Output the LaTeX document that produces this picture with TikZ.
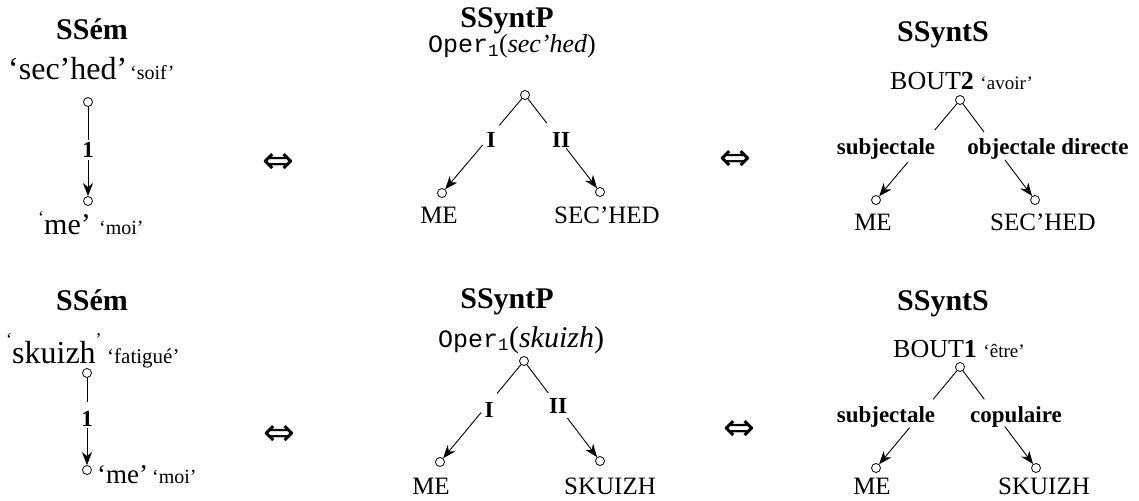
\documentclass[tikz,border=0pt]{standalone}
\usepackage{fontspec}
\usepackage{graphicx}
\setmainfont{Liberation Serif}
\setmonofont{Liberation Mono}
\newfontfamily\symfnt{DejaVu Sans}
\usetikzlibrary{arrows.meta,calc}
\newcommand{\myfs}[1]{\fontsize{#1}{#1}\selectfont}
\begin{document}
\begin{tikzpicture}[x=1pt,y=-1pt,
  dot/.style={circle,draw,line width=0.8pt,inner sep=0pt,minimum size=9pt},
  head/.style={font=\bfseries\myfs{30},anchor=base,inner sep=0pt},
  lab/.style={font=\bfseries\myfs{23},inner sep=0pt},
  word/.style={font=\myfs{25},anchor=base,inner sep=0pt},
  gloss/.style={font=\myfs{20},anchor=base west,inner sep=0pt},
  big/.style={font=\myfs{32},anchor=base west,inner sep=0pt},
  eqv/.style={font=\symfnt\myfs{38},inner sep=0pt},
  ln/.style={line width=0.9pt},
  arr/.style={line width=0.9pt,-{Stealth[length=13pt,width=10pt,inset=4pt]}},
]
\useasboundingbox (0,0) rectangle (1139,500);

% ---------- top row ----------
% SSem
\node[head] (h1) at (92,40) {SSém};
\node[big] (w1) at (8,80) {‘sec’hed’};
\node[gloss] (g1) at (130,80) {‘soif’};
\node[dot] (s1) at (88,102) {};
\node[dot] (s2) at (88,201) {};
\node[lab] (l1) at (88,150) {1};
\draw[ln] (s1) -- ($(s1)!0.38!(s2)$);
\draw[arr] ($(s1)!0.59!(s2)$) -- (s2);
\node[font=\myfs{30},anchor=base west,inner sep=0pt] (w2) at (38,234) {\raisebox{11pt}{\myfs{18}‘}me’};
\node[gloss] (g2) at (99,234) {‘moi’};
\node[eqv] (e1) at (278,163) {⇔};

% SSyntP
\node[head] (h2) at (507,28) {SSyntP};
\node[anchor=base,inner sep=0pt] (o1) at (512,53) {{\ttfamily\myfs{25}Oper\textsubscript{1}}{\myfs{26}(\textit{sec’hed})}};
\node[dot] (r2) at (525,95) {};
\node[dot] (a2) at (442,193) {};
\node[dot] (b2) at (600,192) {};
\node[lab] (la2) at (491,140) {I};
\node[lab] (lb2) at (561,140) {II};
\draw[ln] (r2) -- ($(r2)!0.31!(a2)$);
\draw[arr] ($(r2)!0.51!(a2)$) -- (a2);
\draw[ln] (r2) -- ($(r2)!0.29!(b2)$);
\draw[arr] ($(r2)!0.55!(b2)$) -- (b2);
\node[word] (m2) at (439,223) {ME};
\node[word] (n2) at (607,223) {SEC’HED};
\node[eqv] (e2) at (735,160) {⇔};

% SSyntS
\node[head] (h3) at (943,42) {SSyntS};
\node[anchor=base west,inner sep=0pt] (t3) at (890,90) {\myfs{26}BOUT\textbf{2} \myfs{19}‘avoir’};
\node[dot] (r3) at (960,100) {};
\node[dot] (a3) at (876,200) {};
\node[dot] (b3) at (1035,200) {};
\node[lab,anchor=base] (la3) at (886,154) {subjectale};
\node[lab,anchor=base] (lb3) at (1048,154) {objectale directe};
\draw[ln] (r3) -- ($(r3)!0.30!(a3)$);
\draw[arr] ($(r3)!0.62!(a3)$) -- (a3);
\draw[ln] (r3) -- ($(r3)!0.32!(b3)$);
\draw[arr] ($(r3)!0.60!(b3)$) -- (b3);
\node[word] (m3) at (873,230) {ME};
\node[word] (n3) at (1043,230) {SEC’HED};

% ---------- bottom row ----------
% SSem
\node[head] (h4) at (92,310) {SSém};
\node[big] (w4) at (6,363) {\raisebox{18pt}{\myfs{18}‘}skuizh\raisebox{18pt}{\myfs{18}’}};
\node[font=\myfs{21},anchor=base west,inner sep=0pt] (g4) at (107,363) {‘fatigué’};
\node[dot] (s3) at (87,373) {};
\node[dot] (s4) at (87,470) {};
\node[lab] (l4) at (87,419) {1};
\draw[ln] (s3) -- ($(s3)!0.30!(s4)$);
\draw[arr] ($(s3)!0.57!(s4)$) -- (s4);
\node[font=\myfs{27},anchor=base west,inner sep=0pt] (w5) at (97,483) {‘me’};
\node[gloss] (g5) at (152,483) {‘moi’};
\node[eqv] (e4) at (279,435) {⇔};

% SSyntP
\node[head] (h5) at (507,308) {SSyntP};
\node[anchor=base,inner sep=0pt] (o5) at (521,347) {{\ttfamily\myfs{25}Oper\textsubscript{1}}{\myfs{30}(\textit{skuizh})}};
\node[dot] (r5) at (524,361) {};
\node[dot] (a5) at (440,462) {};
\node[dot] (b5) at (600,461) {};
\node[lab] (la5) at (489,410) {I};
\node[lab] (lb5) at (558,406) {II};
\draw[ln] (r5) -- ($(r5)!0.32!(a5)$);
\draw[arr] ($(r5)!0.51!(a5)$) -- (a5);
\draw[ln] (r5) -- ($(r5)!0.32!(b5)$);
\draw[arr] ($(r5)!0.57!(b5)$) -- (b5);
\node[word] (m5) at (431,494) {ME};
\node[word] (n5) at (610,494) {SKUIZH};
\node[eqv] (e5) at (739,430) {⇔};

% SSyntS
\node[head] (h6) at (943,310) {SSyntS};
\node[anchor=base west,inner sep=0pt] (t6) at (893,357) {\myfs{26}BOUT\textbf{1} \myfs{19}‘être’};
\node[dot] (r6) at (960,367) {};
\node[dot] (a6) at (876,468) {};
\node[dot] (b6) at (1036,468) {};
\node[lab,anchor=base] (la6) at (886,422) {subjectale};
\node[lab,anchor=base] (lb6) at (1016,422) {copulaire};
\draw[ln] (r6) -- ($(r6)!0.32!(a6)$);
\draw[arr] ($(r6)!0.60!(a6)$) -- (a6);
\draw[ln] (r6) -- ($(r6)!0.32!(b6)$);
\draw[arr] ($(r6)!0.59!(b6)$) -- (b6);
\node[word] (m6) at (872,494) {ME};
\node[word] (n6) at (1044,494) {SKUIZH};
\end{tikzpicture}
\end{document}
